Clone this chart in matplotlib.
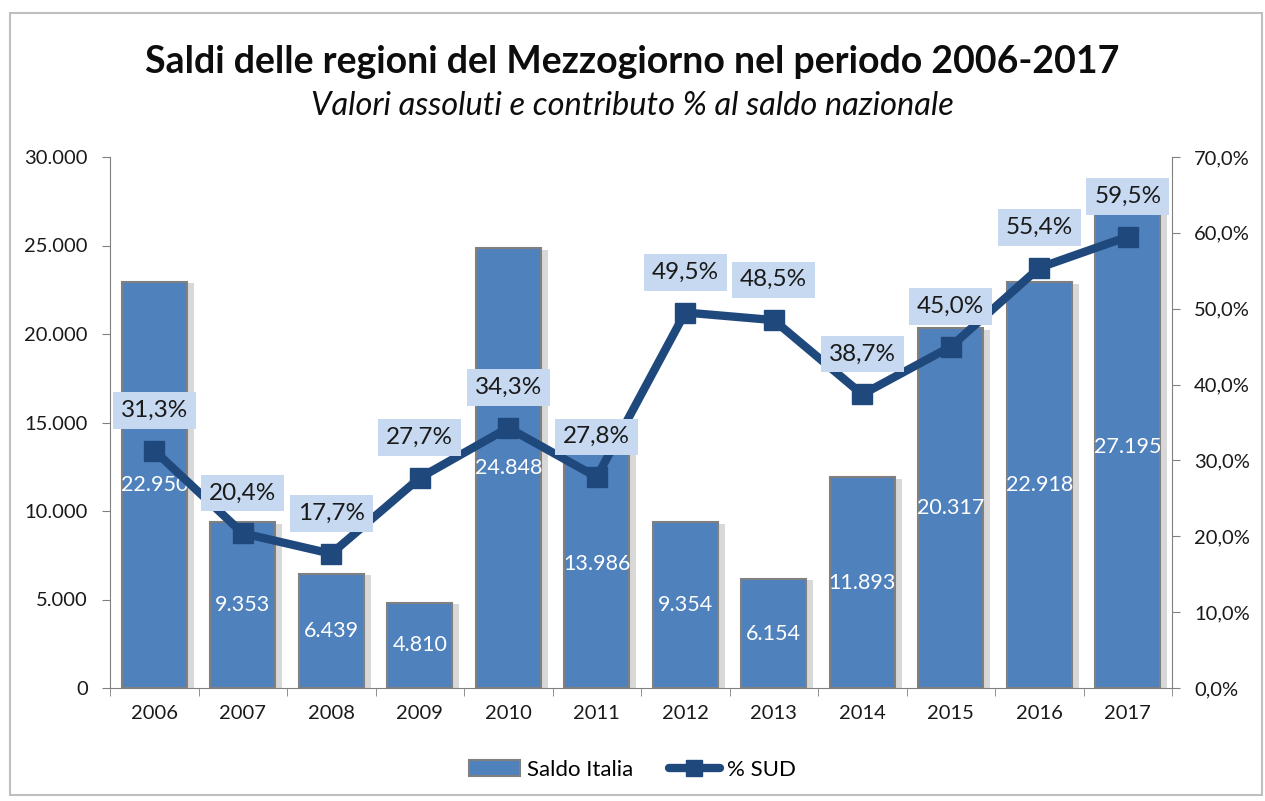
import matplotlib
matplotlib.use("Agg")
import matplotlib.pyplot as plt
import matplotlib.patheffects as pe
from matplotlib.patches import Rectangle
from matplotlib.lines import Line2D
from matplotlib.ticker import FixedLocator

plt.rcParams['font.family'] = ['Lato', 'DejaVu Sans']

years = ['2006', '2007', '2008', '2009', '2010', '2011', '2012', '2013', '2014', '2015', '2016', '2017']
saldo_italia = [22950, 9353, 6439, 4810, 24848, 13986, 9354, 6154, 11893, 20317, 22918, 27195]
pct_sud = [31.3, 20.4, 17.7, 27.7, 34.3, 27.8, 49.5, 48.5, 38.7, 45.0, 55.4, 59.5]
left_ticks = [0, 5000, 10000, 15000, 20000, 25000, 30000]
right_ticks = [0, 10, 20, 30, 40, 50, 60, 70]

BAR = '#4f81bd'
LINE = '#1f497d'
BOXC = '#c6d9f1'

def it_thousands(v):
    return f"{int(v):,}".replace(',', '.')

def it_pct(v):
    return f"{v:.1f}%".replace('.', ',')

fig = plt.figure(figsize=(12.65, 8.01), dpi=100)
fig.patches.append(Rectangle((10/1265, 1-795/801), 1252/1265, (795-13)/801,
                             transform=fig.transFigure, fill=False,
                             edgecolor='#bfbfbf', linewidth=1.5))

ax = fig.add_axes([110/1265, 1-688/801, (1172-110)/1265, (688-157)/801])
x = list(range(len(years)))
bars = ax.bar(x, saldo_italia, width=0.74, color=BAR, edgecolor='#808080', linewidth=1.5,
              zorder=2)
for b in bars:
    b.set_path_effects([pe.SimplePatchShadow(offset=(5, -1), shadow_rgbFace='#808080', alpha=0.3),
                        pe.Normal()])
for xi, v in zip(x, saldo_italia):
    ax.text(xi, v/2, it_thousands(v), ha='center', va='center', color='white',
            fontsize=15.5, zorder=3)

ax.set_xlim(-0.5, len(years)-0.5)
ax.set_ylim(0, 30000)
ax.set_yticks(left_ticks)
ax.set_yticklabels([it_thousands(t) for t in left_ticks], fontsize=14.5, color='#1a1a1a')
ax.set_xticks(x)
ax.set_xticklabels(years, fontsize=14.5, color='#1a1a1a')
ax.tick_params(axis='x', length=0, pad=12)
ax.xaxis.set_minor_locator(FixedLocator([i - 0.5 for i in range(len(years)+1)]))
ax.tick_params(axis='x', which='minor', length=6, color='#808080')
ax.tick_params(axis='y', length=6, color='#808080', pad=10)
for s in ['top', 'right']:
    ax.spines[s].set_visible(False)
ax.spines['left'].set_color('#808080')
ax.spines['bottom'].set_color('#808080')

ax2 = ax.twinx()
ax2.set_ylim(0, 70)
ax2.plot(x, pct_sud, color=LINE, linewidth=6, marker='s', markersize=15,
         markerfacecolor=LINE, markeredgecolor=LINE, zorder=4, solid_joinstyle='round',
         solid_capstyle='round')
for xi, v in zip(x, pct_sud):
    ax2.annotate(it_pct(v), (xi, v), xytext=(0, 29), textcoords='offset points',
                 ha='center', va='center', fontsize=17.5, color='#1a1a1a',
                 bbox=dict(boxstyle='square,pad=0.32', facecolor=BOXC, edgecolor='none'),
                 zorder=5)
ax2.set_yticks(right_ticks)
ax2.set_yticklabels([it_pct(t) for t in right_ticks], fontsize=14.5, color='#1a1a1a')
ax2.tick_params(axis='y', length=6, color='#808080', pad=10)
for s in ['top', 'left', 'bottom']:
    ax2.spines[s].set_visible(False)
ax2.spines['right'].set_color('#808080')
ax.set_zorder(1)
ax2.set_zorder(2)
ax2.patch.set_visible(False)

fig.text(0.5, 1-62/801, 'Saldi delle regioni del Mezzogiorno nel periodo 2006-2017',
         ha='center', va='center', fontsize=27, fontweight='bold', color='#0d0d0d')
fig.text(0.5, 1-106/801, 'Valori assoluti e contributo % al saldo nazionale',
         ha='center', va='center', fontsize=23.5, style='italic', color='#0d0d0d')

handles = [Rectangle((0, 0), 1, 1, facecolor=BAR, edgecolor='#808080', linewidth=1.5),
           Line2D([], [], color=LINE, linewidth=6, marker='s', markersize=12,
                  solid_capstyle='round')]
fig.legend(handles, ['Saldo Italia', '% SUD'], loc='center', bbox_to_anchor=(0.5, 1-770/801),
           ncol=2, frameon=False, fontsize=16, handlelength=2.3, columnspacing=1.6,
           handletextpad=0.3)

fig.savefig('out.png', dpi=100)
